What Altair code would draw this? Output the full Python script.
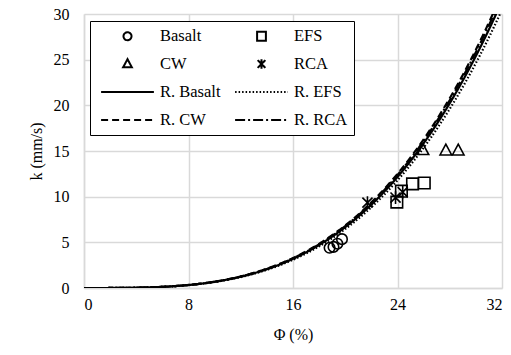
import altair as alt
import numpy as np
import pandas as pd

# ---- measured points ----
basalt_phi = [18.8, 19.1, 19.4, 19.75]
basalt_k = [4.4, 4.5, 4.85, 5.35]
efs_phi = [23.95, 24.3, 25.15, 26.05]
efs_k = [9.4, 10.6, 11.4, 11.5]
cw_phi = [25.95, 27.7, 28.65]
cw_k = [15.1, 15.05, 15.05]
rca_phi = [21.7, 23.85, 24.4]
rca_k = [9.35, 9.9, 10.5]

# ---- regression (power law k = a * phi^b) coefficients ----
reg_names = ["R. Basalt", "R. EFS", "R. CW", "R. RCA"]
reg_a = [3.391e-4, 3.288e-4, 3.483e-4, 3.447e-4]
reg_b = [3.3, 3.3, 3.3, 3.3]

point_names = ["Basalt", "EFS", "CW", "RCA"]

# legend order (legend fills column by column)
domain = ["Basalt", "CW", "R. Basalt", "R. CW", "EFS", "RCA", "R. EFS", "R. RCA"]
right_col = ["EFS", "RCA", "R. EFS", "R. RCA"]
LINE = "M-3.3,0L3.3,0"
shapes = [
    "M0.5,0A0.5,0.5,0,1,1,-0.5,0A0.5,0.5,0,1,1,0.5,0Z",            # Basalt
    "M0,-0.6L0.55,0.42L-0.55,0.42Z",                                # CW
    LINE, LINE,
    "M-0.55,-0.55L0.55,-0.55L0.55,0.55L-0.55,0.55Z",               # EFS
    "M-0.48,-0.48L0.48,0.48M-0.48,0.48L0.48,-0.48M0,-0.6L0,0.6",    # RCA
    LINE, LINE,
]
dashes = [[1, 0], [1, 0], [1, 0], [7, 4], [1, 0], [1, 0], [1.5, 2], [10, 3, 2, 3]]

pts = []
for name, xs, ys in zip(point_names, [basalt_phi, efs_phi, cw_phi, rca_phi],
                        [basalt_k, efs_k, cw_k, rca_k]):
    for x, y in zip(xs, ys):
        pts.append({"series": name, "phi": x, "k": y})
pts = pd.DataFrame(pts)

grid = np.linspace(0, 32, 321)
rows = []
for name, a, b in zip(reg_names, reg_a, reg_b):
    for i, x in enumerate(grid):
        y = a * x ** b
        rows.append({"series": name, "phi": float(x), "k": float(y), "i": i})
        if y > 30:
            break
curves = pd.DataFrame(rows)

font = "Liberation Serif"

label_expr = ("indexof(" + str(right_col) + ", datum.label) >= 0 ? "
              "datum.label + '" + "\u00a0" * 11 + "' : datum.label")

legend = alt.Legend(
    title=None, orient="none", legendX=6, legendY=7, columns=2, gridAlign="each",
    strokeColor="black", padding=6, rowPadding=10, columnPadding=9,
    labelFont=font, labelFontSize=16.5, labelColor="black",
    symbolSize=256, symbolOffset=22.5, labelOffset=23.5,
    symbolStrokeWidth=2, symbolStrokeColor="black",
    symbolFillColor="transparent", fillColor="white",
    labelExpr=label_expr,
)

x_enc = alt.X("phi:Q", title="Φ (%)",
              scale=alt.Scale(domain=[0, 32], nice=False),
              axis=alt.Axis(values=[0, 8, 16, 24, 32], labelPadding=8, titlePadding=14))
y_enc = alt.Y("k:Q", title="k (mm/s)",
              scale=alt.Scale(domain=[0, 30], nice=False),
              axis=alt.Axis(values=[0, 5, 10, 15, 20, 25, 30], labelPadding=15, titlePadding=9))

shape_scale = alt.Scale(domain=domain, range=shapes)
dash_scale = alt.Scale(domain=domain, range=dashes)

lines = alt.Chart(curves).mark_line(color="black", strokeWidth=2.2, clip=True).encode(
    x=x_enc, y=y_enc,
    strokeDash=alt.StrokeDash("series:N", scale=dash_scale, legend=legend, sort=domain),
    order="i:Q",
)

points = alt.Chart(pts).mark_point(filled=False, color="black", strokeWidth=1.6,
                                   size=441, opacity=1).encode(
    x=x_enc, y=y_enc,
    shape=alt.Shape("series:N", scale=shape_scale, legend=legend, sort=domain),
)

chart = alt.layer(lines, points).properties(
    width=418, height=274,
    padding={"left": 84, "top": 14, "right": 9, "bottom": 67},
    autosize="none",
    background="white",
).configure_view(stroke=None).configure_axis(
    grid=True, gridColor="#d9d9d9", gridWidth=1.5,
    domainColor="#d9d9d9", domainWidth=1.5, ticks=False,
    labelFont=font, labelFontSize=16, labelColor="black",
    titleFont=font, titleFontSize=16, titleFontWeight="normal", titleColor="black",
)

chart.save("out.html", embed_options={"renderer": "svg", "actions": False})
